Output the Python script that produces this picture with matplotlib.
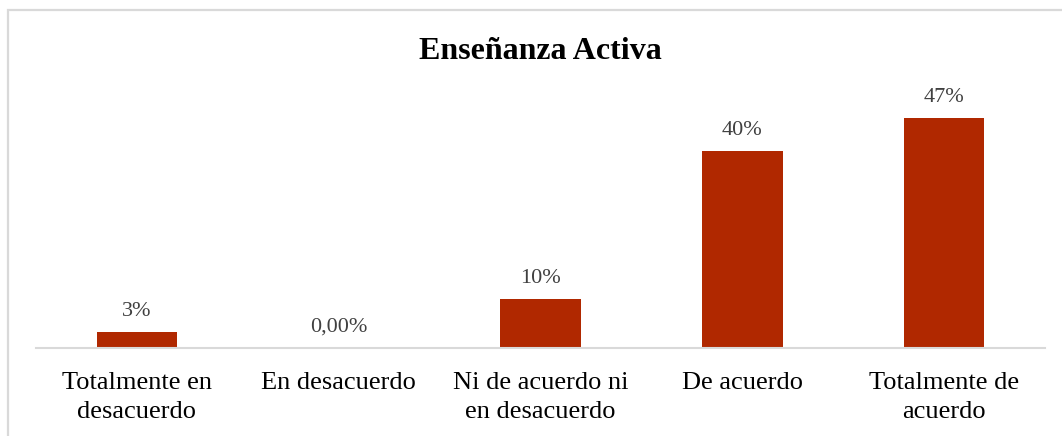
import matplotlib
matplotlib.use("Agg")
import matplotlib.pyplot as plt
from matplotlib.patches import Rectangle

categories = ["Totalmente en\ndesacuerdo", "En desacuerdo", "Ni de acuerdo ni\nen desacuerdo",
              "De acuerdo", "Totalmente de\nacuerdo"]
values = [3.3, 0.0, 10.0, 40.0, 46.7]
value_labels = ["3%", "0,00%", "10%", "40%", "47%"]
title = "Enseñanza Activa"

W, H = 1062, 436
fig = plt.figure(figsize=(W / 100, H / 100), dpi=100)
plt.rcParams['font.family'] = ['Liberation Serif', 'DejaVu Serif']

# chart border
fig.patches.append(Rectangle((8 / W, -0.1), 1.2, (H - 10) / H + 0.1, transform=fig.transFigure,
                             fill=False, edgecolor='#d9d9d9', linewidth=1.6, zorder=0))

ax = fig.add_axes([36 / W, 88 / H, (1045 - 36) / W, (348 - 70) / H])
x = list(range(len(categories)))
ax.bar(x, values, width=0.4, color='#B02800', zorder=2)
ax.set_xlim(-0.5, len(categories) - 0.5)
ax.set_ylim(0, 56.5)

for xi, v, lab in zip(x, values, value_labels):
    ax.annotate(lab, (xi, v), xytext=(0, 11.5), textcoords='offset points',
                ha='center', va='baseline', fontsize=16, color='#404040')

ax.set_xticks(x)
ax.set_xticklabels(categories, fontsize=19, color='black', linespacing=1.42)
ax.tick_params(axis='x', length=0, pad=17)
ax.set_yticks([])
for s in ['top', 'right', 'left']:
    ax.spines[s].set_visible(False)
ax.spines['bottom'].set_color('#d9d9d9')
ax.spines['bottom'].set_linewidth(1.5)
ax.patch.set_alpha(0)

fig.text(540.5 / W, 1 - 59 / H, title, ha='center', va='baseline', fontsize=23,
         fontweight='bold', color='black')

fig.savefig("out.png", dpi=100)
